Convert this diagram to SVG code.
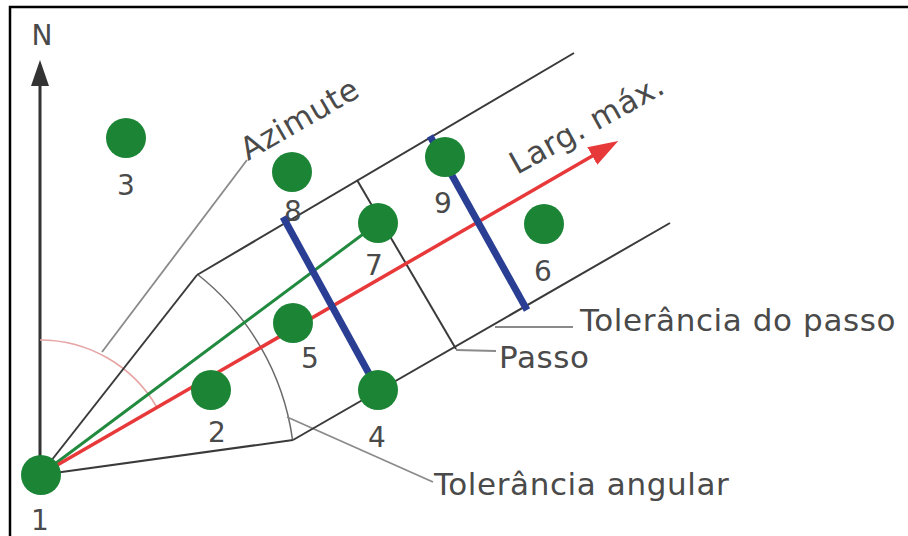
<svg xmlns="http://www.w3.org/2000/svg" width="908" height="536" viewBox="0 0 908 536">
  <defs>
    <style>
      .frame { stroke: #000; stroke-width: 2.5; fill: none; }
      .band { stroke: #3a3a3a; stroke-width: 2; fill: none; }
      .arc { stroke: #6a6a6a; stroke-width: 1.5; fill: none; }
      .leader { stroke: #8a8a8a; stroke-width: 1.8; fill: none; }
      .azarc { stroke: #e6a5a5; stroke-width: 1.6; fill: none; }
      .blue { stroke: #2a3f94; stroke-width: 7; stroke-linecap: butt; }
      .green { stroke: #218a3f; stroke-width: 3; }
      .red { stroke: #e8393a; stroke-width: 3.5; }
      .north { stroke: #333; stroke-width: 3; }
      .dot { fill: #1b8535; }
      .lbl { font-family: "DejaVu Sans", "Noto Sans", sans-serif; font-size: 31px; letter-spacing: 0.6px; fill: #4a4a4a; }
      .num { font-family: "DejaVu Sans", "Noto Sans", sans-serif; font-size: 28px; fill: #4a4a4a; text-anchor: middle; }
    </style>
    <marker id="redHead" viewBox="0 0 30 20" refX="2" refY="10" markerWidth="30" markerHeight="20" markerUnits="userSpaceOnUse" orient="auto">
      <path d="M0,0 L30,10 L0,20 Z" fill="#e8393a"/>
    </marker>
    <marker id="blackHead" viewBox="0 0 26 18" refX="2" refY="9" markerWidth="26" markerHeight="18" markerUnits="userSpaceOnUse" orient="auto">
      <path d="M0,0 L26,9 L0,18 Z" fill="#333"/>
    </marker>
  </defs>
  <rect width="908" height="536" fill="#fff"/>
  <path class="frame" d="M10,536 V7 H908"/>

  <g id="connectors">
    <line class="north" x1="40" y1="470" x2="40" y2="84" marker-end="url(#blackHead)"/>
    <path class="azarc" d="M40,340 A135,135 0 0 1 157,407.5"/>
    <line class="leader" x1="102" y1="352" x2="247" y2="160"/>
    <line class="band" x1="40" y1="475" x2="197" y2="275"/>
    <line class="band" x1="40" y1="475" x2="293" y2="440"/>
    <path class="arc" d="M197,274 A255,255 0 0 1 292.5,439.5"/>
    <line class="leader" x1="287" y1="417" x2="433" y2="482"/>
    <line class="band" x1="197" y1="275" x2="574" y2="53"/>
    <line class="band" x1="293" y1="440" x2="670" y2="223"/>
    <line class="band" x1="357" y1="180" x2="456" y2="349"/>
    <line class="leader" x1="456" y1="350" x2="496" y2="351"/>
    <line class="leader" x1="495" y1="327" x2="573" y2="327"/>
    <line class="green" x1="40" y1="475" x2="378" y2="223"/>
    <line class="red" x1="40" y1="475" x2="594" y2="155" marker-end="url(#redHead)"/>
  </g>

  <g id="labels">
    <text class="num" x="42" y="45">N</text>
    <text class="num" x="40" y="530">1</text>
    <text class="num" x="217" y="442">2</text>
    <text class="num" x="126" y="195">3</text>
    <text class="num" x="377" y="447">4</text>
    <text class="num" x="310" y="368">5</text>
    <text class="num" x="543" y="281">6</text>
    <text class="num" x="374" y="275">7</text>
    <text class="num" x="293" y="221">8</text>
    <text class="num" x="443" y="213">9</text>
    <text class="lbl" transform="translate(248,161) rotate(-30)">Azimute</text>
    <text class="lbl" transform="translate(517,175) rotate(-29)">Larg. máx.</text>
    <text class="lbl" x="580" y="331">Tolerância do passo</text>
    <text class="lbl" x="499" y="368">Passo</text>
    <text class="lbl" x="434" y="495">Tolerância angular</text>
  </g>

  <g id="lag-tolerances">
    <line class="blue" x1="283" y1="217" x2="378" y2="390"/>
    <line class="blue" x1="430" y1="136" x2="527" y2="310"/>
  </g>

  <g id="p1"><circle class="dot" cx="41" cy="475" r="20"/></g>
  <g id="p2"><circle class="dot" cx="211" cy="390" r="20"/></g>
  <g id="p3"><circle class="dot" cx="126" cy="138" r="20"/></g>
  <g id="p4"><circle class="dot" cx="378" cy="390" r="20"/></g>
  <g id="p5"><circle class="dot" cx="293" cy="323" r="20"/></g>
  <g id="p6"><circle class="dot" cx="544" cy="224" r="20"/></g>
  <g id="p7"><circle class="dot" cx="378" cy="223" r="20"/></g>
  <g id="p8"><circle class="dot" cx="292" cy="172" r="20"/></g>
  <g id="p9"><circle class="dot" cx="445" cy="157" r="20"/></g>
</svg>
